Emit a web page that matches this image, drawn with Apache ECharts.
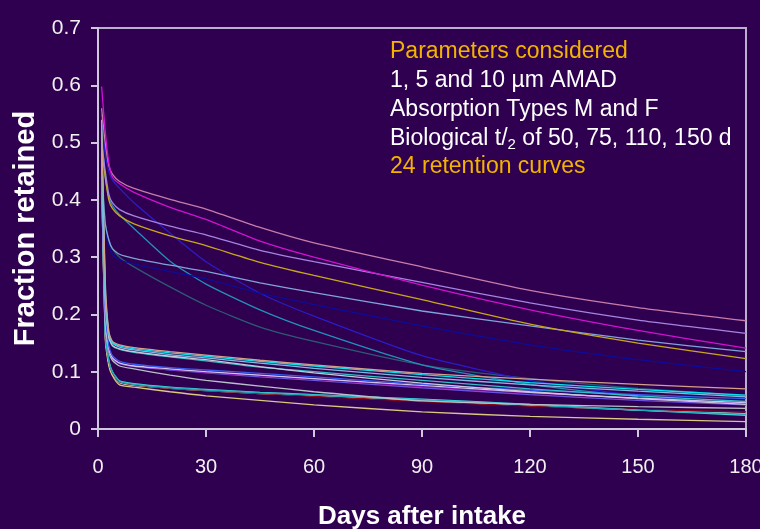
<!DOCTYPE html>
<html>
<head>
<meta charset="utf-8">
<script src="https://cdn.jsdelivr.net/npm/echarts@6/dist/echarts.min.js"></script>
<style>
  html, body { margin: 0; padding: 0; background: #2f004f; }
  #chart { width: 760px; height: 529px; }
</style>
</head>
<body>
<div id="chart"></div>
<script>
"use strict";

// days after intake at which each retention curve was read
const days = [1, 2, 3, 4, 6, 10, 20, 30, 45, 60, 90, 120, 150, 180];

const xTicks = [0, 30, 60, 90, 120, 150, 180];
const yTicks = [0, 0.1, 0.2, 0.3, 0.4, 0.5, 0.6, 0.7];

// upper bundle (slowly cleared curves)
const pink = [0.56, 0.5, 0.46, 0.445, 0.432, 0.42, 0.401, 0.384, 0.352, 0.325, 0.283, 0.242, 0.212, 0.189];
const magenta = [0.598, 0.52, 0.465, 0.44, 0.428, 0.413, 0.387, 0.366, 0.328, 0.3, 0.251, 0.208, 0.172, 0.141];
const lavender = [0.5, 0.45, 0.41, 0.395, 0.383, 0.372, 0.354, 0.339, 0.312, 0.292, 0.256, 0.22, 0.19, 0.167];
const gold = [0.49, 0.44, 0.4, 0.385, 0.372, 0.358, 0.337, 0.32, 0.291, 0.268, 0.226, 0.183, 0.15, 0.123];
const steel = [0.45, 0.36, 0.33, 0.315, 0.305, 0.298, 0.286, 0.275, 0.255, 0.238, 0.206, 0.18, 0.155, 0.135];
const navy = [0.44, 0.35, 0.32, 0.305, 0.295, 0.288, 0.275, 0.262, 0.237, 0.217, 0.18, 0.147, 0.121, 0.1];
const royal = [0.55, 0.48, 0.45, 0.435, 0.42, 0.395, 0.342, 0.292, 0.237, 0.197, 0.128, 0.085, 0.058, 0.042];
const teal = [0.52, 0.44, 0.405, 0.39, 0.374, 0.35, 0.293, 0.253, 0.208, 0.172, 0.112, 0.078, 0.057, 0.043];
const slate = [0.47, 0.36, 0.33, 0.315, 0.3, 0.283, 0.248, 0.216, 0.178, 0.153, 0.112, 0.088, 0.071, 0.058];

// lower bundle (fast cleared curves)
const tan = [0.54, 0.26, 0.17, 0.153, 0.147, 0.142, 0.135, 0.129, 0.12, 0.112, 0.097, 0.087, 0.078, 0.07];
const cyan = [0.53, 0.25, 0.168, 0.151, 0.145, 0.14, 0.133, 0.127, 0.118, 0.11, 0.095, 0.081, 0.069, 0.059];
const skyblue = [0.52, 0.24, 0.165, 0.15, 0.143, 0.138, 0.13, 0.124, 0.115, 0.106, 0.09, 0.077, 0.066, 0.056];
const silver = [0.51, 0.23, 0.16, 0.146, 0.14, 0.135, 0.127, 0.121, 0.109, 0.098, 0.08, 0.065, 0.053, 0.043];
const aqua = [0.5, 0.23, 0.16, 0.145, 0.139, 0.134, 0.126, 0.119, 0.108, 0.1, 0.085, 0.07, 0.058, 0.048];
const blue = [0.5, 0.21, 0.145, 0.128, 0.118, 0.113, 0.107, 0.103, 0.097, 0.091, 0.078, 0.068, 0.06, 0.053];
const purple = [0.49, 0.2, 0.14, 0.125, 0.115, 0.11, 0.104, 0.099, 0.093, 0.087, 0.074, 0.063, 0.053, 0.045];
const violet = [0.48, 0.2, 0.14, 0.124, 0.114, 0.109, 0.103, 0.098, 0.091, 0.085, 0.072, 0.06, 0.05, 0.042];
const grey = [0.48, 0.19, 0.135, 0.12, 0.11, 0.105, 0.094, 0.085, 0.075, 0.065, 0.049, 0.043, 0.039, 0.036];
const lilac = [0.47, 0.19, 0.14, 0.124, 0.115, 0.11, 0.105, 0.1, 0.094, 0.088, 0.076, 0.064, 0.054, 0.046];
const darkteal = [0.46, 0.17, 0.12, 0.1, 0.083, 0.078, 0.072, 0.068, 0.063, 0.059, 0.051, 0.042, 0.033, 0.026];
const red = [0.45, 0.17, 0.118, 0.098, 0.082, 0.077, 0.071, 0.067, 0.062, 0.057, 0.048, 0.04, 0.034, 0.03];
const turquoise = [0.45, 0.17, 0.12, 0.1, 0.084, 0.079, 0.073, 0.069, 0.064, 0.06, 0.052, 0.043, 0.033, 0.024];
const mint = [0.44, 0.165, 0.115, 0.096, 0.081, 0.076, 0.071, 0.067, 0.062, 0.058, 0.049, 0.041, 0.033, 0.027];
const straw = [0.44, 0.16, 0.11, 0.093, 0.077, 0.073, 0.065, 0.058, 0.05, 0.042, 0.03, 0.022, 0.017, 0.013];

const curves = [
  [slate, "#2c5a76"], [teal, "#2290b8"], [royal, "#2a1cc8"], [navy, "#0c0c9c"],
  [steel, "#7ea4d8"], [gold, "#c8a818"], [lavender, "#a484e0"], [pink, "#c87caa"],
  [magenta, "#d012d0"],
  [straw, "#d8c880"], [mint, "#d6f0c8"], [red, "#8c0018"], [turquoise, "#40dce0"],
  [darkteal, "#20a8b8"], [grey, "#b8c0c8"], [violet, "#6a50e0"], [purple, "#8a10a8"],
  [lilac, "#d0c4f0"], [blue, "#3a5cf0"], [aqua, "#30c0c8"], [silver, "#c8c8d8"],
  [skyblue, "#8ab4e0"], [cyan, "#00e5ee"], [tan, "#d4a08a"],
];

const FONT = "'Liberation Sans', Arial, sans-serif";
const chart = echarts.init(document.getElementById("chart"));

const series = curves.map(([values, color]) => ({
  type: "line",
  data: days.map((d, i) => [d, values[i]]),
  showSymbol: false,
  smooth: 0.2,
  lineStyle: { color, width: 1.3 },
  silent: true,
}));

const noteX = 390;
const noteLines = [
  { text: "Parameters considered", y: 53, color: "#f2b400" },
  { text: "1, 5 and 10 µm AMAD", y: 82, color: "#ffffff" },
  { text: "Absorption Types M and F", y: 111, color: "#ffffff" },
  { text: "{a|Biological t/}{s|2}{a| of 50, 75, 110, 150 d}", y: 140, color: "#ffffff" },
  { text: "24 retention curves", y: 168, color: "#f2b400" },
];

chart.setOption({
  backgroundColor: "#2f004f",
  animation: false,
  grid: {
    left: 98, right: 14, top: 28, bottom: 100,
    outerBoundsMode: "none",
    show: true, borderColor: "#bab0cc", borderWidth: 2,
  },
  xAxis: {
    type: "value",
    min: xTicks[0], max: xTicks[xTicks.length - 1], interval: 30,
    name: "Days after intake",
    nameLocation: "middle",
    nameGap: 75,
    nameTextStyle: { color: "#ffffff", fontSize: 26, fontWeight: "bold", fontFamily: FONT },
    axisLine: { lineStyle: { color: "#d0c8dc", width: 2 } },
    axisTick: { length: 8, lineStyle: { color: "#d0c8dc", width: 2 } },
    axisLabel: { color: "#f0f0f0", fontSize: 20, fontFamily: FONT, margin: 28 },
    splitLine: { show: false },
  },
  yAxis: {
    type: "value",
    min: yTicks[0], max: yTicks[yTicks.length - 1], interval: 0.1,
    name: "Fraction retained",
    nameLocation: "middle",
    nameGap: 52,
    nameTextStyle: { color: "#ffffff", fontSize: 29, fontWeight: "bold", fontFamily: FONT },
    axisLine: { lineStyle: { color: "#d0c8dc", width: 2 } },
    axisTick: { length: 7, lineStyle: { color: "#d0c8dc", width: 2 } },
    axisLabel: { color: "#f0f0f0", fontSize: 21, fontFamily: FONT, margin: 17 },
    splitLine: { show: false },
  },
  graphic: noteLines.map((l) => ({
    type: "text",
    left: noteX,
    top: l.y - 13,
    style: {
      text: l.text,
      fill: l.color,
      font: `23px ${FONT}`,
      rich: {
        a: { fontSize: 23, fontFamily: FONT, fill: l.color, color: l.color },
        s: { fontSize: 15, fontFamily: FONT, fill: l.color, color: l.color, padding: [12, 0, 0, 0] },
      },
    },
  })),
  series,
});
</script>
</body>
</html>
